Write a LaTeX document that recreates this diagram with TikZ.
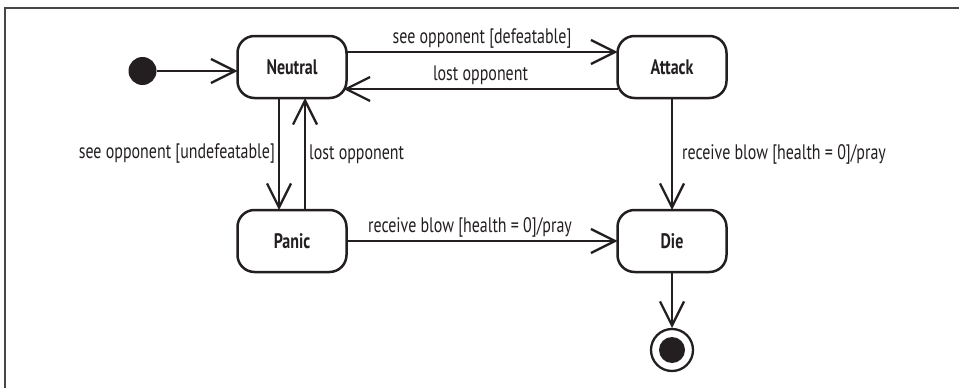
\documentclass[tikz,border=0pt]{standalone}
\usepackage{fontspec}
\setmainfont{PT Sans}[FakeStretch=0.76]
\usetikzlibrary{arrows.meta,positioning}
\definecolor{inkUML}{RGB}{35,31,32}
\definecolor{frameUML}{RGB}{70,70,70}

\begin{document}
\begin{tikzpicture}[
    state/.style={draw=inkUML,line width=2.5pt,rounded corners=17pt,minimum width=109pt,minimum height=62pt,outer sep=0pt,font=\fontsize{21}{25}\selectfont\bfseries,text=inkUML},
    initial/.style={circle,fill=inkUML,inner sep=0pt,minimum size=28pt,outer sep=0pt},
    final/.style={circle,draw=inkUML,line width=2.3pt,inner sep=0pt,minimum size=42pt,outer sep=1pt,
      path picture={\fill[inkUML] (path picture bounding box.center) circle (13pt);}},
    trans/.style={-{Straight Barb[length=24pt,width=24pt]},line width=2.3pt,draw=inkUML},
    lab/.style={font=\fontsize{21}{25}\selectfont,text=inkUML,inner sep=3pt}
  ]
  \useasboundingbox (0pt,0pt) rectangle (959pt,-388pt);
  \draw[frameUML,line width=1.5pt] (959pt,-8pt) -- (5pt,-8pt) -- (5pt,-388pt);

  \node[state] (neutral) at (292pt,-67pt) {Neutral};
  \node[state,right=271pt of neutral] (attack) {Attack};
  \node[state,below=112pt of neutral] (panic) {Panic};
  \node[state,below=112pt of attack] (die) {Die};
  \node[initial,left=81pt of neutral,yshift=-4pt] (start) {};
  \node[final,below=56pt of die] (end) {};

  \draw[trans] (start) -- (start -| neutral.west);
  \draw[trans] ([yshift=15pt]neutral.east) -- node[lab,above]{see opponent [defeatable]} ([yshift=15pt]attack.west);
  \draw[trans] ([yshift=-22pt]attack.west) -- node[lab,above]{lost opponent} ([shift={(-3pt,-22pt)}]neutral.east);
  \draw[trans] ([xshift=-13pt]neutral.south) -- node[lab,left]{see opponent [undefeatable]} ([xshift=-13pt]panic.north);
  \draw[trans] ([xshift=13pt]panic.north) -- node[lab,right]{lost opponent} ([xshift=13pt]neutral.south);
  \draw[trans] (attack) -- node[lab,right,xshift=6pt]{receive blow [health = 0]/pray} (die);
  \draw[trans] (panic) -- node[lab,above,xshift=-12pt]{receive blow [health = 0]/pray} (die);
  \draw[trans] (die) -- (end);
\end{tikzpicture}
\end{document}
